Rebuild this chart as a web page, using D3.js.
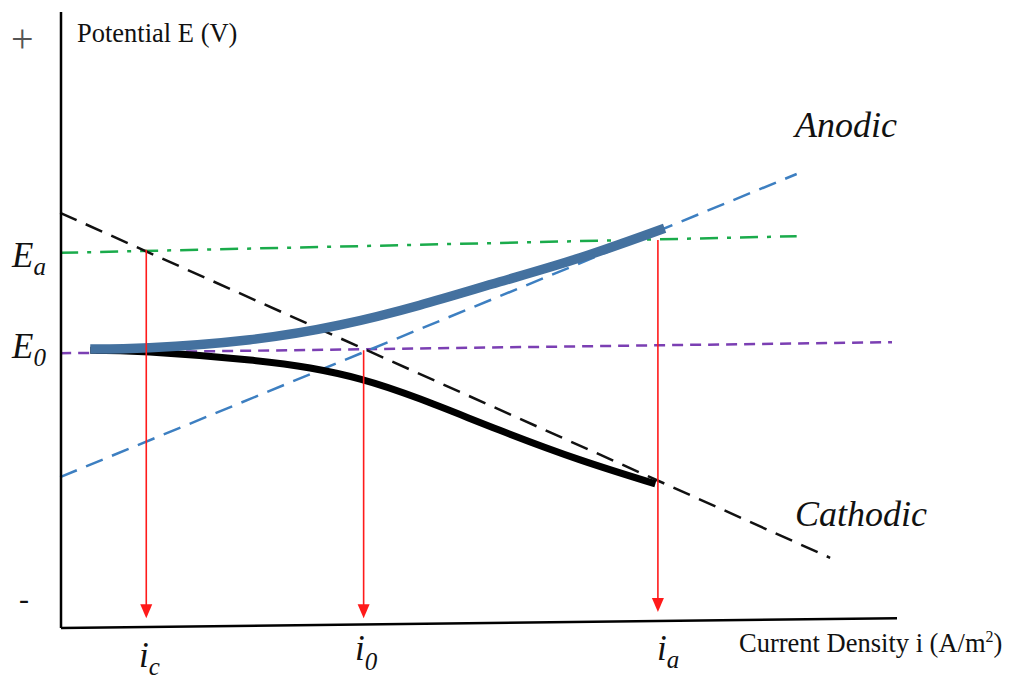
<html><head>
<script src="https://d3js.org/d3.v7.min.js"></script>
<style>
  body { margin: 0; background: #fff; }
  text { font-family: "Liberation Serif", "Times New Roman", serif; fill: #111; }
</style>
</head>
<body>
<svg id="chart" width="1015" height="679"></svg>
<script>
  // schematic units: current 0..100 (left to right), potential 0..100 (bottom to top)
  const xAxisLine = [[0, 0], [100, 1.6]];
  const yAxisLine = [[0, 0], [0, 100]];

  const cathodicTafel = [[-0.1, 67.4], [92.0, 11.4]];
  const anodicTafel = [[-0.1, 24.5], [88.0, 73.7]];
  const eaLine = [[-0.1, 60.9], [88.0, 63.6]];
  const e0Line = [[-0.1, 44.6], [99.4, 46.4]];

  const anodicCurve = [[3.5, 45.3], [10.6, 45.5], [22.6, 46.8], [33.4, 49.2], [42.9, 52.4],
                       [52.5, 56.2], [62.1, 60.1], [72.2, 64.9]];
  const cathodicCurve = [[3.5, 45.1], [10.6, 44.8], [22.6, 43.5], [29.8, 42.2], [35.8, 40.4],
                         [42.9, 37.2], [52.5, 32.1], [62.1, 27.3], [71.1, 23.4]];

  // red projection arrows: x, top, bottom
  const arrows = [
    {name: "ic", x: 10.2, top: 61.4, bottom: 1.6},
    {name: "i0", x: 36.2, top: 45.1, bottom: 1.6},
    {name: "ia", x: 71.4, top: 63.0, bottom: 2.6}
  ];

  const svg = d3.select("#chart");
  const x = d3.scaleLinear().domain([0, 100]).range([61, 897]);
  const y = d3.scaleLinear().domain([0, 100]).range([628, 12]);

  const line = d3.line().x(d => x(d[0])).y(d => y(d[1]));
  const curve = d3.line().x(d => x(d[0])).y(d => y(d[1])).curve(d3.curveNatural);

  // guide lines
  svg.append("path").attr("d", line(e0Line)).attr("fill", "none")
    .attr("stroke", "#7b3fb3").attr("stroke-width", 2.5).attr("stroke-dasharray", "11,7");
  svg.append("path").attr("d", line(eaLine)).attr("fill", "none")
    .attr("stroke", "#1aab4b").attr("stroke-width", 2.5).attr("stroke-dasharray", "18,9,4,9");
  svg.append("path").attr("d", line(cathodicTafel)).attr("fill", "none")
    .attr("stroke", "#111").attr("stroke-width", 2.5).attr("stroke-dasharray", "18,10");
  svg.append("path").attr("d", line(anodicTafel)).attr("fill", "none")
    .attr("stroke", "#3d7fc1").attr("stroke-width", 2.5).attr("stroke-dasharray", "18,10");

  // polarization curves
  svg.append("path").attr("d", curve(cathodicCurve)).attr("fill", "none")
    .attr("stroke", "#000").attr("stroke-width", 7).attr("stroke-linecap", "butt");
  svg.append("path").attr("d", curve(anodicCurve)).attr("fill", "none")
    .attr("stroke", "#44719f").attr("stroke-width", 9.5).attr("stroke-linecap", "butt");

  // red arrows
  arrows.forEach(a => {
    const ax = x(a.x), top = y(a.top), tip = y(a.bottom);
    svg.append("line").attr("x1", ax).attr("x2", ax).attr("y1", top).attr("y2", tip - 10)
      .attr("stroke", "#ff1a1a").attr("stroke-width", 1.6);
    svg.append("path")
      .attr("d", `M${ax - 6},${tip - 14} L${ax + 6},${tip - 14} L${ax},${tip} Z`)
      .attr("fill", "#ff1a1a");
  });

  // axes
  svg.append("path").attr("d", line(yAxisLine)).attr("stroke", "#000").attr("stroke-width", 2.5);
  svg.append("path").attr("d", line(xAxisLine)).attr("stroke", "#000").attr("stroke-width", 2.5);

  // text
  svg.append("text").attr("x", 11).attr("y", 52).attr("font-size", 40).style("fill", "#555").text("+");
  svg.append("text").attr("x", 19).attr("y", 609).attr("font-size", 30).text("-");
  svg.append("text").attr("x", 77).attr("y", 42).attr("font-size", 26.5).text("Potential E (V)");
  svg.append("text").attr("x", 739).attr("y", 652).attr("font-size", 26.5)
    .html("Current Density i (A/m<tspan dy='-10' font-size='16'>2</tspan><tspan dy='10'>)</tspan>");

  const italicLabel = (tx, ty, main, sub, dy) => {
    const t = svg.append("text").attr("x", tx).attr("y", ty).attr("font-size", 35)
      .attr("font-style", "italic");
    t.append("tspan").text(main);
    t.append("tspan").attr("dy", dy).attr("font-size", 25).text(sub);
  };
  italicLabel(12, 267, "E", "a", 8);
  italicLabel(12, 358, "E", "0", 8);
  italicLabel(139, 667, "i", "c", 8);
  italicLabel(355, 660, "i", "0", 10);
  italicLabel(657, 660, "i", "a", 8);

  svg.append("text").attr("x", 795).attr("y", 137).attr("font-size", 36)
    .attr("font-style", "italic").text("Anodic");
  svg.append("text").attr("x", 795).attr("y", 526).attr("font-size", 36)
    .attr("font-style", "italic").text("Cathodic");
</script>
</body>
</html>
